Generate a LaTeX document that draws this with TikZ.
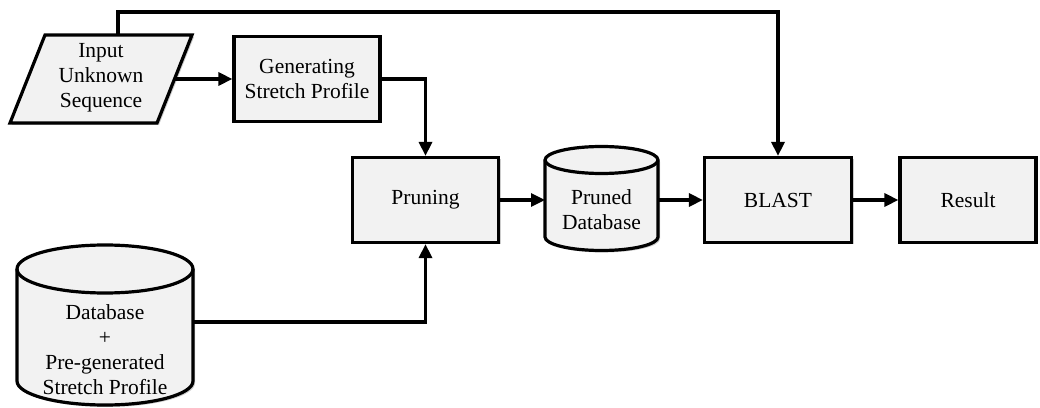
\documentclass[tikz,border=0pt]{standalone}
\usepackage{fontspec}
\setmainfont{Liberation Serif}
\usetikzlibrary{arrows.meta,shadows}
\definecolor{boxgray}{HTML}{F2F2F2}
\begin{document}
\begin{tikzpicture}[x=1pt,y=1pt,
  shade/.style={drop shadow={shadow xshift=2pt,shadow yshift=-2pt,fill=black!40}},
  shapeline/.style={draw=black,line width=3.2pt,fill=boxgray,line join=miter},
  proc/.style={shapeline,shade,rectangle,minimum width=146pt,minimum height=85pt,inner sep=2pt},
  txt/.style={align=center,font=\fontsize{21.5pt}{25pt}\selectfont},
  conn/.style={line width=3.2pt,-{Triangle[length=14pt,width=13pt]}}
]
\useasboundingbox (0,0) rectangle (1040,407);

% input parallelogram
\path[shapeline,shade] (45,372) -- (192,372) -- (157,284) -- (10,284) -- cycle;
\node[txt] (input) at (101,329) {Input\\Unknown\\Sequence};
\coordinate (inputR) at (174.5,328);
\coordinate (inputT) at (118,372);

% process boxes
\node[proc,txt] (gen) at (307,328) {Generating\\Stretch Profile};
\node[proc,txt] (prune) at (425.5,207) {Pruning};
\node[proc,txt,minimum width=147pt] (blast) at (778,207) {BLAST};
\node[proc,txt,minimum width=136pt] (result) at (968,207) {Result};

% pruned database cylinder
\path[shapeline,shade] (545,247) -- (545,170)
  arc[start angle=180,end angle=360,x radius=56.5,y radius=13.5]
  -- (658,247)
  arc[start angle=0,end angle=180,x radius=56.5,y radius=13.5] -- cycle;
\draw[line width=3.2pt] (545,247) arc[start angle=180,end angle=360,x radius=56.5,y radius=13.5];
\node[txt] (pdb) at (601.5,197) {Pruned\\Database};
\coordinate (pdbL) at (545,207);
\coordinate (pdbR) at (658,207);

% full database cylinder
\path[shapeline,shade] (17,138) -- (17,26)
  arc[start angle=180,end angle=360,x radius=88,y radius=24]
  -- (193,138)
  arc[start angle=0,end angle=180,x radius=88,y radius=24] -- cycle;
\draw[line width=3.2pt] (17,138) arc[start angle=180,end angle=360,x radius=88,y radius=24];
\node[txt] (db) at (105,57) {Database\\+\\Pre-generated\\Stretch Profile};
\coordinate (dbR) at (193,85);

% connectors
\draw[conn] (inputT) -- ++(0,23) -| (blast.north);
\draw[conn] (inputR) -- (gen.west);
\draw[conn] (gen.east) -| (prune.north);
\draw[conn] (dbR) -| (prune.south);
\draw[conn] (prune.east) -- (pdbL);
\draw[conn] (pdbR) -- (blast.west);
\draw[conn] (blast.east) -- (result.west);
\end{tikzpicture}
\end{document}
